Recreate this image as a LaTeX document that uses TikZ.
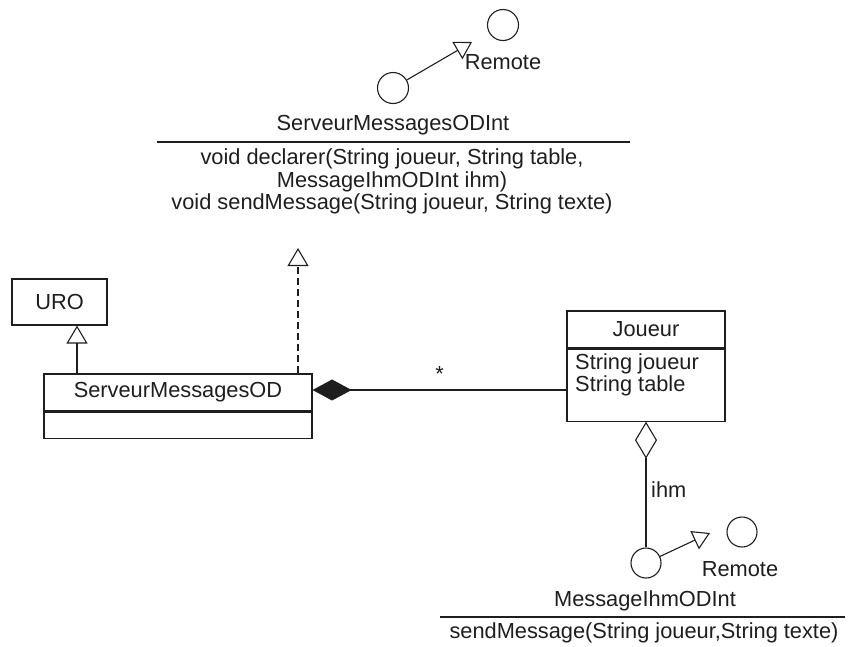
\documentclass[tikz,border=0pt]{standalone}
\usepackage{fontspec}
\setmainfont{Liberation Sans}
\usetikzlibrary{arrows.meta}
\definecolor{ink}{HTML}{1E1E1E}
\begin{document}
\begin{tikzpicture}[x=1pt,y=-1pt,
  every node/.style={inner sep=0pt, text=ink, font=\fontsize{21.8}{22.5}\selectfont},
  classbox/.style={draw=ink, line width=1.1pt, rectangle},
  lollipop/.style={draw=ink, line width=1.1pt, circle, minimum size=#1},
  conn/.style={draw=ink, line width=1.1pt},
  realizes/.style={conn, dash pattern=on 7pt off 4pt, -{Triangle[open, length=18pt, width=21pt]}},
  inherits/.style={conn, -{Triangle[open, length=18pt, width=21pt]}},
  remoteref/.style={conn, -{Triangle[open, length=17pt, width=20pt]}},
  composes/.style={conn, {Diamond[length=39pt, width=21pt]}-},
  aggregates/.style={conn, {Diamond[open, length=37pt, width=22pt]}-}
]
\useasboundingbox (0,0) rectangle (850,646);

% interface ServeurMessagesODInt with its Remote parent
\node[lollipop=31pt] (si) at (393,88) {};
\node[lollipop=31pt] (sremote) at (503,25) {};
\node (sremotelbl) at (503,62) {Remote};
\coordinate (tipA) at (472,42);
\draw[remoteref] (si) -- (tipA);
\node (siname) at (393,125) {ServeurMessagesODInt};
\draw[conn] (157,142) -- (630,142);
\node[align=center] (siops) at (392,181.5) {void declarer(String joueur, String table,\\MessageIhmODInt ihm)\\void sendMessage(String joueur, String texte)};

% class URO
\node[classbox, minimum width=95pt, minimum height=46pt] (uro) at (59.5,302) {URO};

% class ServeurMessagesOD
\node[classbox, minimum width=268pt, minimum height=37pt] (odname) at (178,392.5) {ServeurMessagesOD};
\node[classbox, minimum width=268pt, minimum height=26pt, anchor=north] (odbody) at (odname.south) {};

% class Joueur
\node[classbox, minimum width=158pt, minimum height=37pt] (jname) at (646,329.5) {Joueur};
\node[classbox, minimum width=158pt, minimum height=72pt, anchor=north] (jbody) at (jname.south) {};
\node[align=left, anchor=north west] (jattrs) at (575,353) {String joueur\\String table};

% interface MessageIhmODInt with its Remote parent
\node[lollipop=30pt] (mi) at (646,563) {};
\node[lollipop=30pt] (mremote) at (742,532) {};
\node (mremotelbl) at (740,569) {Remote};
\coordinate (tipB) at (710,533);
\draw[remoteref] (mi) -- (tipB);
\node (miname) at (645,601) {MessageIhmODInt};
\draw[conn] (440,617) -- (845,617);
\node (miops) at (644,633) {sendMessage(String joueur,String texte)};

% relations
\coordinate (sitip) at (298,248);
\draw[realizes] (odname.north -| sitip) -- (sitip);
\coordinate (urofoot) at (77,325);
\draw[inherits] (odname.north -| urofoot) -- (uro.south -| urofoot);
\draw[composes] (odname.east |- 0,390) -- (jname.west |- 0,390)
  node[pos=0.5, anchor=south, yshift=8pt] (many) {*};
\draw[aggregates] (jbody.south) -- (mi.north);
\node[anchor=west] (ihm) at (651,490) {ihm};
\end{tikzpicture}
\end{document}
